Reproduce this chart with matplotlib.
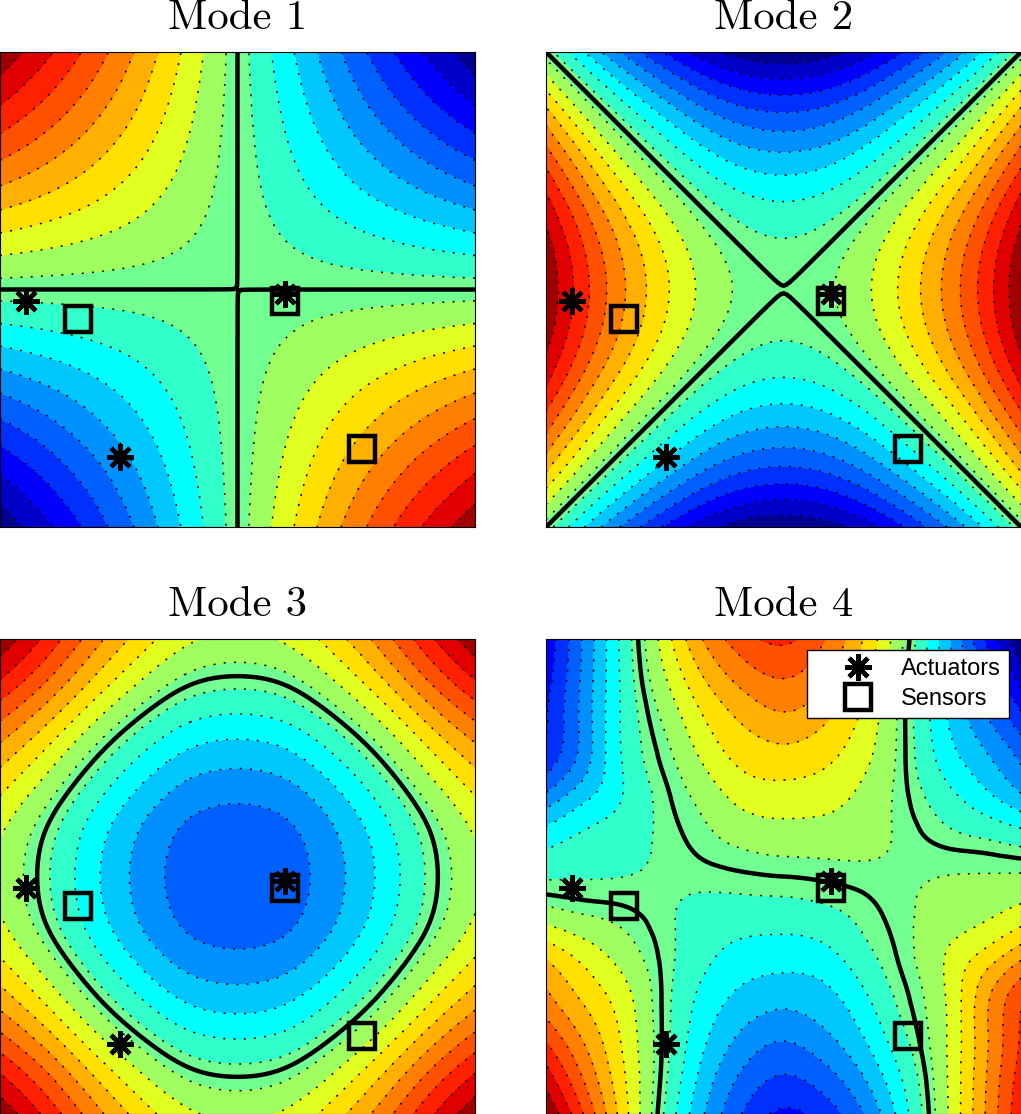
import numpy as np
import matplotlib
matplotlib.use('Agg')
import matplotlib.pyplot as plt
import matplotlib.tri as mtri

# field values, rows go from the top edge to the bottom edge
mode1 = [
    [0.92, 0.77, 0.60, 0.415, 0.21, 0, -0.21, -0.415, -0.60, -0.77, -0.92],
    [0.77, 0.64, 0.50, 0.346, 0.175, 0, -0.175, -0.346, -0.50, -0.64, -0.77],
    [0.60, 0.50, 0.39, 0.27, 0.137, 0, -0.137, -0.27, -0.39, -0.50, -0.60],
    [0.415, 0.346, 0.27, 0.187, 0.095, 0, -0.095, -0.187, -0.27, -0.346, -0.415],
    [0.21, 0.175, 0.137, 0.095, 0.048, 0, -0.048, -0.095, -0.137, -0.175, -0.21],
    [0, 0, 0, 0, 0, 0, 0, 0, 0, 0, 0],
    [-0.21, -0.175, -0.137, -0.095, -0.048, 0, 0.048, 0.095, 0.137, 0.175, 0.21],
    [-0.415, -0.346, -0.27, -0.187, -0.095, 0, 0.095, 0.187, 0.27, 0.346, 0.415],
    [-0.60, -0.50, -0.39, -0.27, -0.137, 0, 0.137, 0.27, 0.39, 0.50, 0.60],
    [-0.77, -0.64, -0.50, -0.346, -0.175, 0, 0.175, 0.346, 0.50, 0.64, 0.77],
    [-0.92, -0.77, -0.60, -0.415, -0.21, 0, 0.21, 0.415, 0.60, 0.77, 0.92],
]
mode2 = [
    [0, -0.305, -0.555, -0.755, -0.887, -0.93, -0.887, -0.755, -0.555, -0.305, 0],
    [0.305, 0, -0.25, -0.45, -0.582, -0.625, -0.582, -0.45, -0.25, 0, 0.305],
    [0.555, 0.25, 0, -0.2, -0.332, -0.375, -0.332, -0.2, 0, 0.25, 0.555],
    [0.755, 0.45, 0.2, 0, -0.132, -0.175, -0.132, 0, 0.2, 0.45, 0.755],
    [0.887, 0.582, 0.332, 0.132, 0, -0.043, 0, 0.132, 0.332, 0.582, 0.887],
    [0.93, 0.625, 0.375, 0.175, 0.043, 0, 0.043, 0.175, 0.375, 0.625, 0.93],
    [0.887, 0.582, 0.332, 0.132, 0, -0.043, 0, 0.132, 0.332, 0.582, 0.887],
    [0.755, 0.45, 0.2, 0, -0.132, -0.175, -0.132, 0, 0.2, 0.45, 0.755],
    [0.555, 0.25, 0, -0.2, -0.332, -0.375, -0.332, -0.2, 0, 0.25, 0.555],
    [0.305, 0, -0.25, -0.45, -0.582, -0.625, -0.582, -0.45, -0.25, 0, 0.305],
    [0, -0.305, -0.555, -0.755, -0.887, -0.93, -0.887, -0.755, -0.555, -0.305, 0],
]
mode3 = [
    [0.92, 0.717, 0.489, 0.298, 0.166, 0.13, 0.166, 0.298, 0.489, 0.717, 0.92],
    [0.717, 0.522, 0.304, 0.12, -0.006, -0.04, -0.006, 0.12, 0.304, 0.522, 0.717],
    [0.489, 0.304, 0.097, -0.077, -0.197, -0.23, -0.197, -0.077, 0.097, 0.304, 0.489],
    [0.298, 0.12, -0.077, -0.244, -0.359, -0.39, -0.359, -0.244, -0.077, 0.12, 0.298],
    [0.166, -0.006, -0.197, -0.359, -0.47, -0.50, -0.47, -0.359, -0.197, -0.006, 0.166],
    [0.13, -0.04, -0.23, -0.39, -0.50, -0.53, -0.50, -0.39, -0.23, -0.04, 0.13],
    [0.166, -0.006, -0.197, -0.359, -0.47, -0.50, -0.47, -0.359, -0.197, -0.006, 0.166],
    [0.298, 0.12, -0.077, -0.244, -0.359, -0.39, -0.359, -0.244, -0.077, 0.12, 0.298],
    [0.489, 0.304, 0.097, -0.077, -0.197, -0.23, -0.197, -0.077, 0.097, 0.304, 0.489],
    [0.717, 0.522, 0.304, 0.12, -0.006, -0.04, -0.006, 0.12, 0.304, 0.522, 0.717],
    [0.92, 0.717, 0.489, 0.298, 0.166, 0.13, 0.166, 0.298, 0.489, 0.717, 0.92],
]
mode4 = [
    [-0.72, -0.42, -0.10, 0.20, 0.46, 0.61, 0.67, 0.56, 0.35, 0.06, -0.28, -0.63, -0.95],
    [-0.69, -0.41, -0.11, 0.14, 0.35, 0.49, 0.55, 0.47, 0.29, 0.03, -0.25, -0.52, -0.79],
    [-0.66, -0.40, -0.12, 0.07, 0.25, 0.37, 0.43, 0.37, 0.23, 0.018, -0.22, -0.42, -0.62],
    [-0.62, -0.39, -0.13, 0.02, 0.17, 0.28, 0.31, 0.275, 0.18, 0.017, -0.18, -0.32, -0.47],
    [-0.42, -0.27, -0.14, -0.015, 0.085, 0.185, 0.207, 0.19, 0.125, 0.02, -0.10, -0.21, -0.33],
    [-0.20, -0.13, -0.09, -0.03, 0.03, 0.08, 0.10, 0.10, 0.083, 0.034, -0.02, -0.055, -0.10],
    [-0.06, -0.055, -0.05, -0.04, -0.025, -0.01, 0, 0.01, 0.025, 0.04, 0.05, 0.055, 0.06],
    [0.10, 0.055, 0.02, -0.034, -0.083, -0.10, -0.10, -0.08, -0.03, 0.03, 0.09, 0.13, 0.20],
    [0.33, 0.21, 0.10, -0.02, -0.125, -0.19, -0.207, -0.185, -0.085, 0.015, 0.14, 0.27, 0.42],
    [0.47, 0.32, 0.18, -0.017, -0.18, -0.275, -0.31, -0.28, -0.17, -0.02, 0.13, 0.39, 0.62],
    [0.62, 0.42, 0.22, -0.018, -0.23, -0.37, -0.43, -0.37, -0.25, -0.07, 0.12, 0.40, 0.66],
    [0.79, 0.52, 0.25, -0.03, -0.29, -0.47, -0.55, -0.49, -0.35, -0.14, 0.11, 0.41, 0.69],
    [0.95, 0.63, 0.28, -0.06, -0.35, -0.56, -0.67, -0.61, -0.46, -0.20, 0.10, 0.42, 0.72],
]
titles = ['Mode 1', 'Mode 2', 'Mode 3', 'Mode 4']

actuators_x = [-0.89, -0.495, 0.2]
actuators_y = [-0.048, -0.705, -0.02]
sensors_x = [-0.67, 0.524, 0.2]
sensors_y = [-0.124, -0.672, -0.048]

levels = [-0.85, -0.75, -0.65, -0.55, -0.45, -0.35, -0.25, -0.15, -0.05,
          0.05, 0.15, 0.25, 0.35, 0.45, 0.55, 0.65, 0.75, 0.85]
band_colors = ['#000090', '#0000C8', '#0000FF', '#0030FF', '#0060FF', '#0090FF', '#00C8FF',
               '#00FFFF', '#30FFCC', '#70FF90', '#A0FF60', '#E0FF20', '#FFE000', '#FFB000',
               '#FF8000', '#FF5000', '#FF2000', '#E00000', '#A00000']
# the two saddle modes have their zero line opened a touch at the centre
nodal_levels = [0.00005, -0.0003, 0.0, 0.0]


def union_jack(n):
    # cell diagonals run along the main diagonals of the square, keeps the field symmetric
    tris = []
    mid = (n - 1) / 2
    for r in range(n - 1):
        for c in range(n - 1):
            a, b = r * n + c, r * n + c + 1
            d, e = (r + 1) * n + c, (r + 1) * n + c + 1
            if (r + 0.5 - mid) * (c + 0.5 - mid) > 0:
                tris += [[a, b, e], [a, e, d]]
            else:
                tris += [[a, b, d], [b, e, d]]
    return tris


W, H = 1021, 1114
fig = plt.figure(figsize=(W / 100, H / 100), dpi=100)
boxes = [(0, 52), (546, 52), (0, 639), (546, 639)]
side = 475

for i, field in enumerate([mode1, mode2, mode3, mode4]):
    x0, y0 = boxes[i]
    ax = fig.add_axes([x0 / W, 1 - (y0 + side) / H, side / W, side / H])
    z = np.array(field)
    n = z.shape[0]
    xx, yy = np.meshgrid(np.linspace(-1, 1, n), np.linspace(1, -1, n))
    tri = mtri.Triangulation(xx.ravel(), yy.ravel(), union_jack(n))
    fine_tri, fine_z = mtri.UniformTriRefiner(tri).refine_field(z.ravel(), subdiv=4)

    ax.tricontourf(fine_tri, fine_z, levels=[-5] + levels + [5], colors=band_colors, antialiased=False)
    ax.tricontour(fine_tri, fine_z, levels=levels, colors='k', linewidths=1.1,
                  linestyles=[(0, (1.3, 5.4))])
    ax.tricontour(fine_tri, fine_z, levels=[nodal_levels[i]], colors='k', linewidths=3.2,
                  linestyles='solid')

    ax.plot(actuators_x, actuators_y, ls='none', marker=(8, 2, 0), ms=19, mew=3.2, color='k',
            label='Actuators', clip_on=False)
    ax.plot(sensors_x, sensors_y, ls='none', marker='s', ms=19, mew=3.2, mec='k', mfc='none',
            label='Sensors')
    ax.set_xlim(-1, 1)
    ax.set_ylim(-1, 1)
    ax.set_xticks([])
    ax.set_yticks([])
    for s in ax.spines.values():
        s.set_linewidth(0.8)
    ax.set_title(titles[i], family='cmr10', fontsize=30.8, pad=16.5)

    if i == 3:
        ax.legend(loc='upper right', bbox_to_anchor=(0.975, 0.977), borderaxespad=0, fancybox=False,
                  framealpha=1, edgecolor='k', prop={'family': 'Liberation Sans', 'size': 17},
                  handletextpad=0.0, borderpad=0.34, labelspacing=0.35, handlelength=3.64)

fig.savefig('out.png', dpi=100)
